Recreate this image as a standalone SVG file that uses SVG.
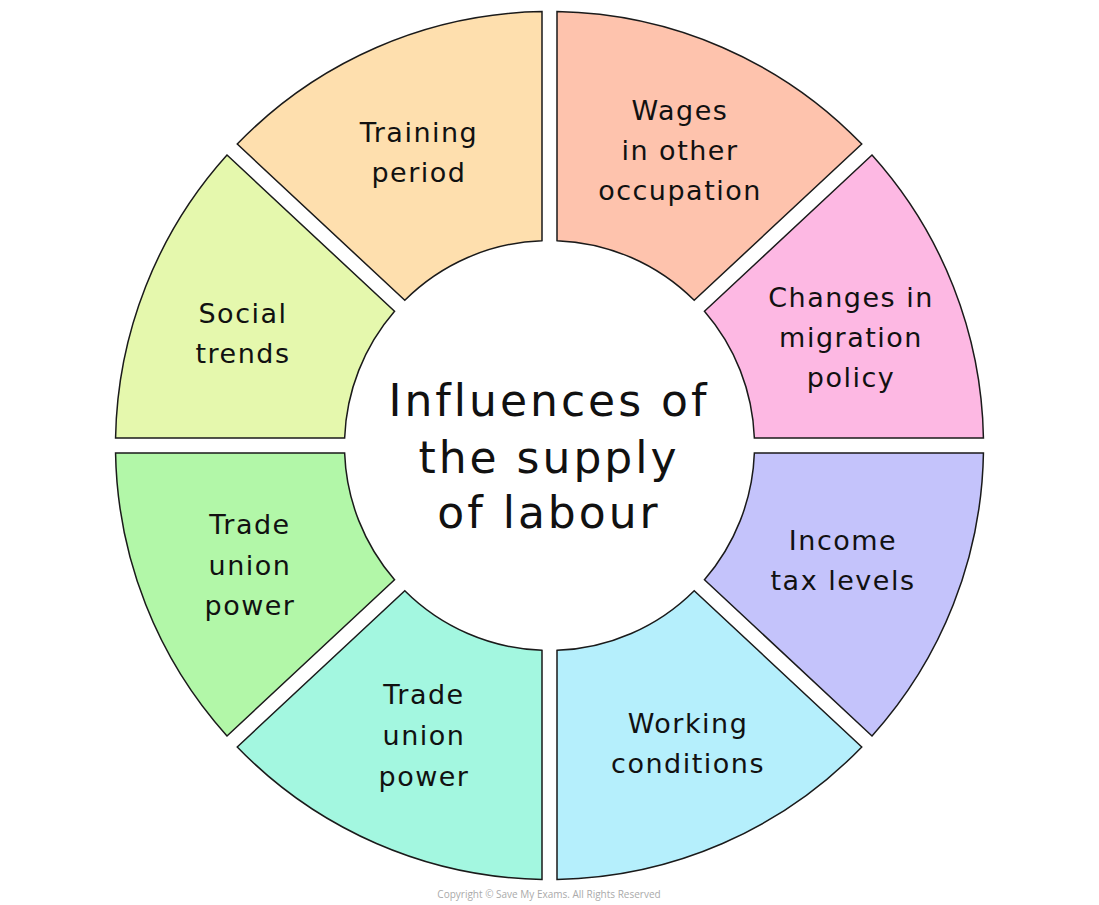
<svg xmlns="http://www.w3.org/2000/svg" width="1099" height="905" viewBox="0 0 1099 905">
<style>
.seg{stroke:#1a1a1a;stroke-width:1.5}
.t{font-family:"DejaVu Sans",sans-serif;font-size:27px;fill:#111;text-anchor:middle;dominant-baseline:central;letter-spacing:1.5px}
.c{font-family:"DejaVu Sans",sans-serif;font-size:44px;fill:#111;text-anchor:middle;dominant-baseline:central;letter-spacing:3px}
</style>
<rect width="1099" height="905" fill="#fff"/>
<g id="wages"><path class="seg" fill="#fec3ad" d="M557,11.57 A434,434 0 0 1 861.75,144.07 L694.21,300.3 A205,205 0 0 0 557,240.64 Z"/>
<text class="t" x="680" y="110">Wages</text><text class="t" x="680" y="150">in other</text><text class="t" x="680" y="190">occupation</text></g>
<g id="migration"><path class="seg" fill="#fdb8e3" d="M871.99,155.05 A434,434 0 0 1 983.44,438 L754.36,438 A205,205 0 0 0 704.45,311.28 Z"/>
<text class="t" x="851" y="297">Changes in</text><text class="t" x="851" y="337">migration</text><text class="t" x="851" y="377">policy</text></g>
<g id="income"><path class="seg" fill="#c4c3fb" d="M983.44,453 A434,434 0 0 1 871.99,735.95 L704.45,579.72 A205,205 0 0 0 754.36,453 Z"/>
<text class="t" x="843" y="540">Income</text><text class="t" x="843" y="580">tax levels</text></g>
<g id="working"><path class="seg" fill="#b5effc" d="M861.75,746.93 A434,434 0 0 1 557,879.44 L557,650.36 A205,205 0 0 0 694.21,590.7 Z"/>
<text class="t" x="688" y="723">Working</text><text class="t" x="688" y="763">conditions</text></g>
<g id="trade-bottom"><path class="seg" fill="#a3f7e0" d="M542,879.44 A434,434 0 0 1 237.25,746.93 L404.79,590.7 A205,205 0 0 0 542,650.36 Z"/>
<text class="t" x="424" y="694">Trade</text><text class="t" x="424" y="735">union</text><text class="t" x="424" y="776">power</text></g>
<g id="trade-left"><path class="seg" fill="#b2f7a8" d="M227.01,735.95 A434,434 0 0 1 115.56,453 L344.64,453 A205,205 0 0 0 394.55,579.72 Z"/>
<text class="t" x="250" y="524">Trade</text><text class="t" x="250" y="565">union</text><text class="t" x="250" y="605">power</text></g>
<g id="social"><path class="seg" fill="#e5f8ad" d="M115.56,438 A434,434 0 0 1 227.01,155.05 L394.55,311.28 A205,205 0 0 0 344.64,438 Z"/>
<text class="t" x="243" y="313">Social</text><text class="t" x="243" y="353">trends</text></g>
<g id="training"><path class="seg" fill="#fedfae" d="M237.25,144.07 A434,434 0 0 1 542,11.57 L542,240.64 A205,205 0 0 0 404.79,300.3 Z"/>
<text class="t" x="419" y="132">Training</text><text class="t" x="419" y="172">period</text></g>
<g id="center"><text class="c" x="549" y="400">Influences of</text><text class="c" x="549" y="457">the supply</text><text class="c" x="549" y="512">of labour</text></g>
<g id="connectors"/>
<text x="549" y="898" font-family="'Open Sans',sans-serif" font-size="10" fill="#aaa" text-anchor="middle">Copyright © Save My Exams. All Rights Reserved</text>
</svg>
